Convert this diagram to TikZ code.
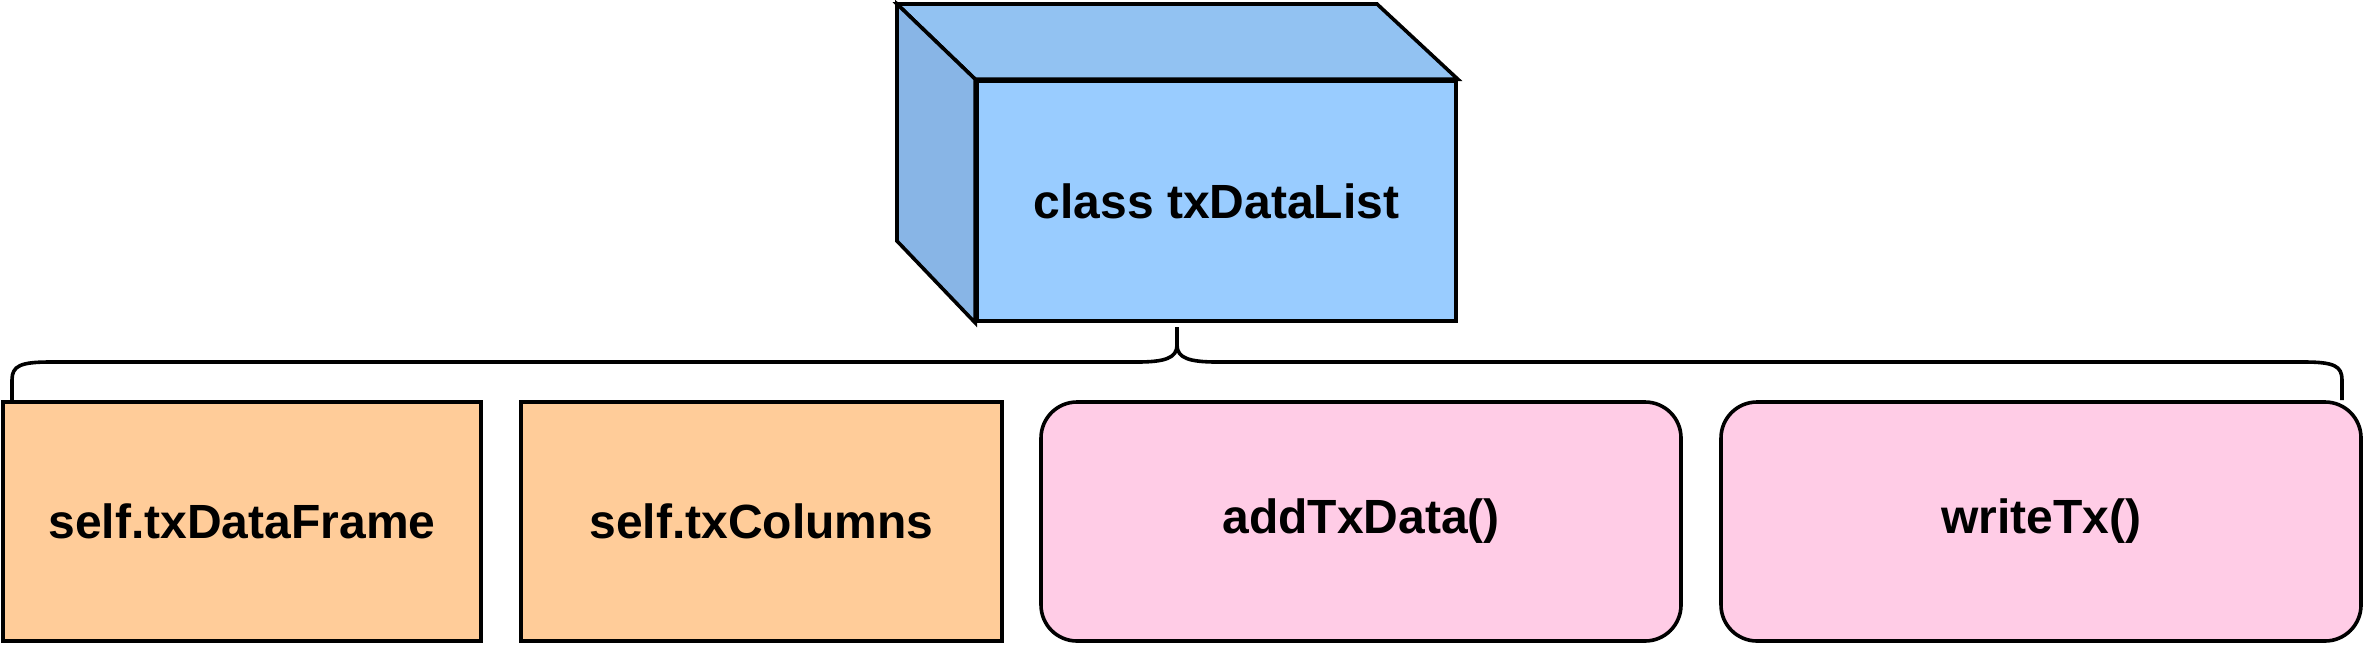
\documentclass[tikz,border=0pt]{standalone}
\usepackage{fontspec}
\setmainfont{Liberation Sans}
\usetikzlibrary{calc}
\definecolor{cubefront}{HTML}{99CCFF}
\definecolor{cubetop}{HTML}{92C2F2}
\definecolor{cubeside}{HTML}{88B5E6}
\definecolor{orangefill}{HTML}{FFCC99}
\definecolor{pinkfill}{HTML}{FFCCE6}
\tikzset{
  lbl/.style={font=\bfseries\fontsize{24pt}{28pt}\selectfont, text=black},
  frame/.style={draw=black, line width=1.8pt},
  sqbox/.style={frame, lbl, fill=orangefill, minimum height=119.5pt},
  rbox/.style={frame, lbl, fill=pinkfill, rounded corners=18pt, minimum height=119.5pt, minimum width=320pt},
  conn/.style={draw=black, line width=1.8pt}
}
\begin{document}
\begin{tikzpicture}[x=0.5pt, y=-0.5pt]
\useasboundingbox (0,0) rectangle (2364,644);
% cube
\node[frame, lbl, fill=cubefront, minimum width=239.5pt, minimum height=120pt] (cube) at (1216.5,201) {class txDataList};
\coordinate (bl) at (897,4);
\coordinate (br) at (1377,4);
\coordinate (bb) at (897,241);
\filldraw[fill=cubetop, draw=black, line width=1.8pt, line join=miter] (cube.north west) -- (bl) -- (br) -- (cube.north east) -- cycle;
\filldraw[fill=cubeside, draw=black, line width=1.8pt, line join=miter] (cube.north west) -- (bl) -- (bb) -- (cube.south west) -- cycle;
% boxes
\node[sqbox, minimum width=239pt] (b1) at (242,521.5) {self.txDataFrame};
\node[sqbox, minimum width=240.5pt] (b2) at (761.5,521.5) {self.txColumns};
\node[rbox] (b3) at (1361,521.5) {addTxData()};
\node[rbox] (b4) at (2041,521.5) {writeTx()};
% brace
\coordinate (tip) at (1177,327);
\coordinate (lend) at (12,380);
\coordinate (rend) at (2342,380);
\path[conn] (tip) -- (1177,345) .. controls (1177,358) and (1165,362) .. (1137,362)
  -- (50,362) .. controls (20,362) and (12,366) .. (lend)
  -- (lend |- b1.north);
\path[conn] (tip) -- (1177,345) .. controls (1177,358) and (1189,362) .. (1217,362)
  -- (2304,362) .. controls (2334,362) and (2342,366) .. (rend)
  -- (rend |- b4.north);
\end{tikzpicture}
\end{document}
